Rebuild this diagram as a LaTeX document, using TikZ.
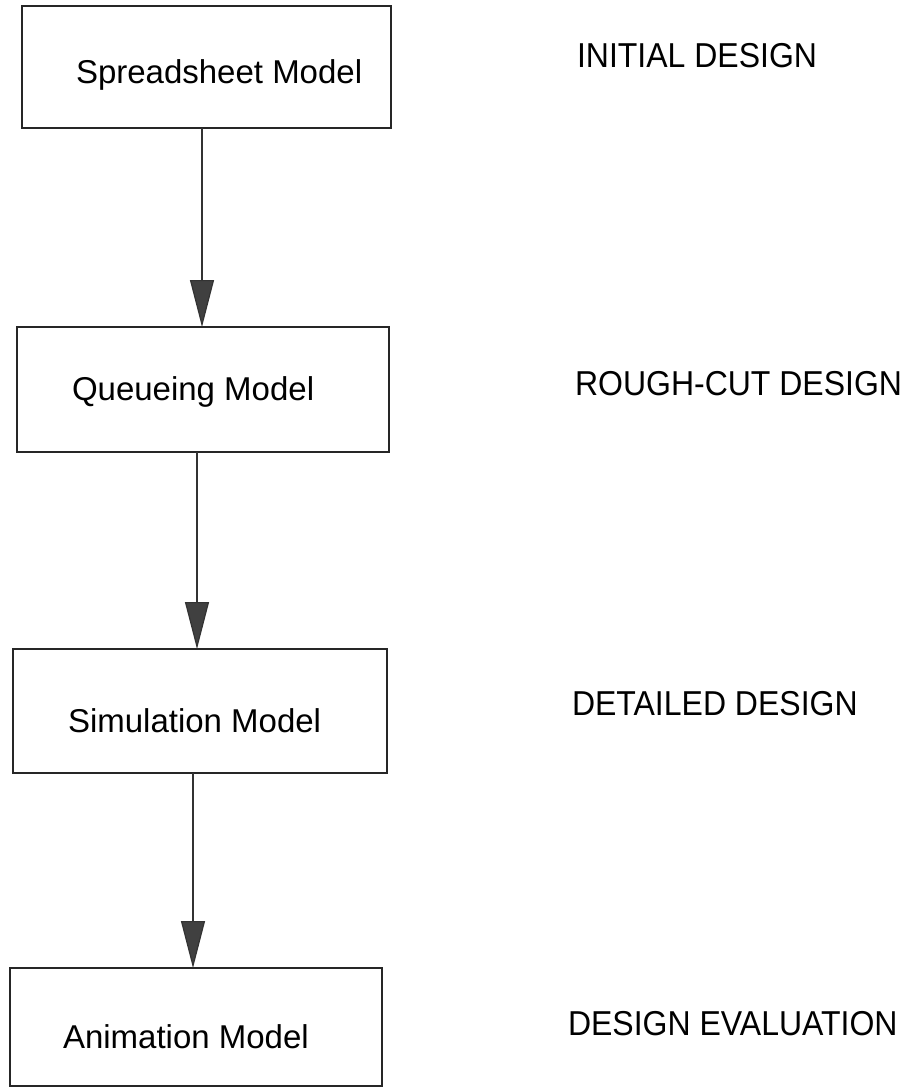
\documentclass[tikz,border=0pt]{standalone}
\usepackage{fontspec}
\setmainfont{Liberation Sans}
\usetikzlibrary{arrows.meta}
\begin{document}
\begin{tikzpicture}[x=1pt,y=-1pt,
  modelbox/.style={draw=black!85,line width=1.4pt,rectangle,inner sep=0pt,outer sep=0pt},
  boxtext/.style={inner sep=0pt,outer sep=0pt,anchor=base west,font=\fontsize{33}{38}\selectfont},
  stagetext/.style={inner sep=0pt,outer sep=0pt,anchor=base west,font=\fontsize{32}{38}\selectfont},
  flow/.style={draw=black!80,line width=1.2pt,-{Triangle[length=47pt,width=24pt,fill=black!75]}}]
  \useasboundingbox (0,0) rectangle (910,1088);

  % model boxes
  \node[modelbox,minimum width=369pt,minimum height=122pt] (b1) at (206.5,67) {};
  \node[modelbox,minimum width=372pt,minimum height=125pt] (b2) at (203,389.5) {};
  \node[modelbox,minimum width=374pt,minimum height=124pt] (b3) at (200,711) {};
  \node[modelbox,minimum width=372pt,minimum height=118pt] (b4) at (196,1027) {};

  % box captions
  \node[boxtext] (t1) at (76,83) {Spreadsheet Model};
  \node[boxtext] (t2) at (72,400) {Queueing Model};
  \node[boxtext] (t3) at (68,732) {Simulation Model};
  \node[boxtext] (t4) at (63,1048) {Animation Model};

  % design stages
  \node[stagetext] (s1) at (577,67) {\scalebox{1}[1.08]{INITIAL DESIGN}};
  \node[stagetext] (s2) at (575,395) {\scalebox{1}[1.08]{ROUGH-CUT DESIGN}};
  \node[stagetext] (s3) at (572,715) {\scalebox{1}[1.08]{DETAILED DESIGN}};
  \node[stagetext] (s4) at (568,1035) {\scalebox{1}[1.08]{DESIGN EVALUATION}};

  % flow between models
  \draw[flow] (b1.south -| 202,0) -- (b2.north -| 202,0);
  \draw[flow] (b2.south -| 197,0) -- (b3.north -| 197,0);
  \draw[flow] (b3.south -| 193,0) -- (b4.north -| 193,0);
\end{tikzpicture}
\end{document}
